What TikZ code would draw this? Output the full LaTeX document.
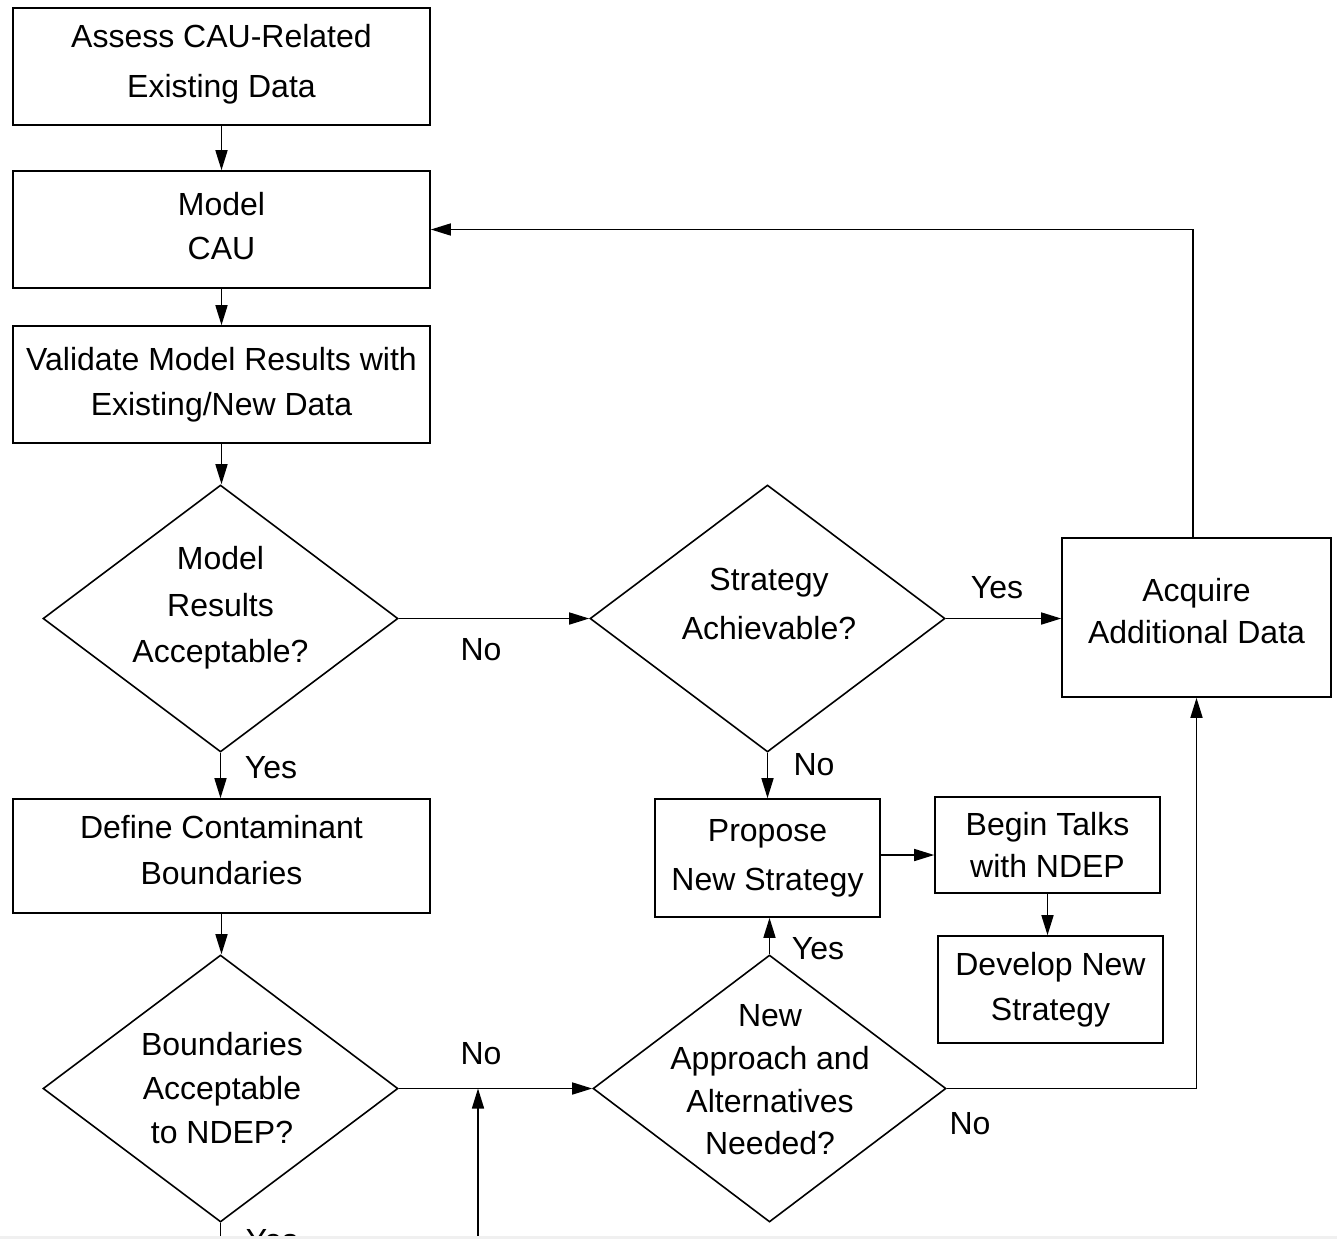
\documentclass[tikz,border=0pt]{standalone}
\usepackage{fontspec}
\setmainfont{Liberation Sans}
\usetikzlibrary{shapes.geometric,arrows.meta}
\begin{document}
\begin{tikzpicture}[x=0.75pt,y=-0.75pt,
  line width=1.2pt,
  box/.style={draw,rectangle,inner sep=0pt,align=center},
  dia/.style={draw,diamond,inner sep=0pt,minimum width=355*0.75pt,minimum height=267*0.75pt},
  txt/.style={align=center,inner sep=0pt},
  lab/.style={inner sep=0pt,font=\fontsize{24}{29}\selectfont},
  arr/.style={-{Triangle[length=15pt,width=9pt]}}]
\useasboundingbox (0,0) rectangle (1337,1239);
\begin{scope}
\clip (0,0) rectangle (1337,1236);
% boxes
\node[box,minimum width=417*0.75pt,minimum height=117*0.75pt,font=\fontsize{24}{37.5}\selectfont,text depth=9pt] (b1) at (221.5,66.5) {Assess CAU-Related\\Existing Data};
\node[box,minimum width=417*0.75pt,minimum height=117*0.75pt,font=\fontsize{24}{33}\selectfont,text depth=6pt] (b2) at (221.5,229.5) {Model\\CAU};
\node[box,minimum width=417*0.75pt,minimum height=117*0.75pt,font=\fontsize{24}{34}\selectfont] (b3) at (221.5,384.5) {Validate Model Results with\\Existing/New Data};
\node[dia] (d1) at (220.5,618.5) {};
\node[txt,font=\fontsize{24}{35}\selectfont] (d1t) at (220.5,608) {Model\\Results\\Acceptable?};
\node[box,minimum width=417*0.75pt,minimum height=114*0.75pt,font=\fontsize{24}{35}\selectfont,text depth=9pt] (b5) at (221.5,856) {Define Contaminant\\Boundaries};
\node[dia] (d6) at (220.5,1088.5) {};
\node[txt,font=\fontsize{24}{33}\selectfont] (d6t) at (222,1088) {Boundaries\\Acceptable\\to NDEP?};
\node[dia] (d7) at (767.5,618.5) {};
\node[txt,font=\fontsize{24}{37}\selectfont] (d7t) at (769,604) {Strategy\\Achievable?};
\node[box,minimum width=269*0.75pt,minimum height=159*0.75pt,font=\fontsize{24}{31.5}\selectfont,text depth=10.5pt] (a8) at (1196.5,617.5) {Acquire\\Additional Data};
\node[box,minimum width=225*0.75pt,minimum height=118*0.75pt,font=\fontsize{24}{37}\selectfont] (p9) at (767.5,858) {Propose\\New Strategy};
\node[box,minimum width=225*0.75pt,minimum height=96*0.75pt,font=\fontsize{24}{32}\selectfont] (t10) at (1047.5,845) {Begin Talks\\with NDEP};
\node[box,minimum width=225*0.75pt,minimum height=107*0.75pt,font=\fontsize{24}{34}\selectfont] (dv11) at (1050.5,989.5) {Develop New\\Strategy};
\node[dia,minimum width=353*0.75pt] (d12) at (769.5,1088.5) {};
\node[txt,font=\fontsize{24}{32}\selectfont] (d12t) at (770,1080) {New\\Approach and\\Alternatives\\Needed?};
% connectors
\draw[arr] (b1.south) -- (b2.north);
\draw[arr] (b2.south) -- (b3.north);
\draw[arr] (b3.south) -- (b3.south |- d1.north);
\draw[arr] (d1.east) -- (d7.west);
\draw[arr] (d7.east) -- (d7.east -| a8.west);
\draw[arr] ([xshift=-3.5*0.75pt]a8.north) |- (b2.east);
\draw[arr] (d1.south) -- (d1.south |- b5.north);
\draw[arr] (d7.south) -- (d7.south |- p9.north);
\draw[arr] ([yshift=2.25pt]p9.east) -- ([yshift=2.25pt]p9.east -| t10.west);
\draw[arr] (t10.south) -- (t10.south |- dv11.north);
\draw[arr] (d12.north) -- (d12.north |- p9.south);
\draw[arr] (d12.east) -| (a8.south);
\draw[arr] (b5.south) -- (b5.south |- d6.north);
\draw[arr] (d6.east) -- (d12.west);
\coordinate (jn) at (478,1088.5);
\coordinate (lowend) at (478,1260);
\draw[arr] (lowend) -- (jn);
\draw (d6.south) -- (d6.south |- lowend);
% labels
\node[lab] (l1) at (481,650) {No};
\node[lab] (l2) at (997,588) {Yes};
\node[lab] (l3) at (271,768) {Yes};
\node[lab] (l4) at (814,765) {No};
\node[lab] (l5) at (818,949) {Yes};
\node[lab] (l6) at (970,1124) {No};
\node[lab] (l7) at (481,1054) {No};
\node[lab] (l8) at (272,1241) {Yes};
\end{scope}
\fill[black!6] (0,1236) rectangle (1337,1239);
\end{tikzpicture}
\end{document}
